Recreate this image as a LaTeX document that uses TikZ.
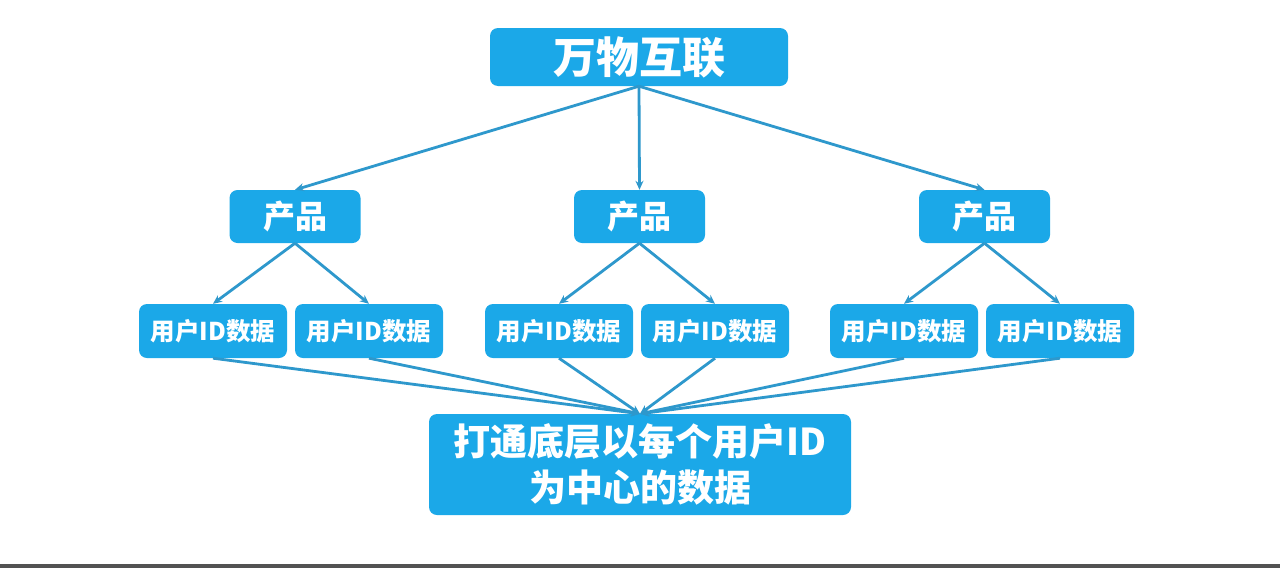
\documentclass[tikz,border=0pt]{standalone}
\usepackage{fontspec}
\newfontfamily\cjk{Noto Sans CJK SC}
\usetikzlibrary{arrows.meta}
\definecolor{boxblue}{RGB}{27,168,232}
\definecolor{lineblue}{RGB}{46,152,204}
\begin{document}
\begin{tikzpicture}[x=1pt,y=-1pt,
    box/.style={fill=boxblue, rounded corners=8pt, text=white, align=center,
        inner sep=0pt, font=\cjk\bfseries},
    link/.style={draw=lineblue, line width=2.8pt, -{Stealth[length=9pt,width=8pt]}}]
    % Canvas
    \fill[white] (0,0) rectangle (1280,568);
    \useasboundingbox (0,0) rectangle (1280,568);
    \fill[black!68] (0,564) rectangle (1280,568);

    % Top
    \node[box, minimum width=298pt, minimum height=58pt, font=\cjk\bfseries\fontsize{43}{46}\selectfont]
        (top) at (639,57) {万物互联};

    % Products
    \foreach \i/\x in {1/295, 2/639.5, 3/984.5}{
        \node[box, minimum width=131pt, minimum height=53pt, font=\cjk\bfseries\fontsize{32}{34}\selectfont]
            (p\i) at (\x,216.5) {产品};
        \draw[link] (top.south) -- (p\i.north);
    }

    % User ID data
    \foreach \i/\x/\p in {1/213/1, 2/369/1, 3/559/2, 4/715/2, 5/904/3, 6/1060/3}{
        \node[box, minimum width=148pt, minimum height=54pt, font=\cjk\bfseries\fontsize{24.5}{27}\selectfont]
            (u\i) at (\x,331) {用户ID数据};
        \draw[link] (p\p.south) -- (u\i.north);
    }

    % Bottom
    \node[box, minimum width=422pt, minimum height=101pt, font=\cjk\bfseries\fontsize{37}{46}\selectfont]
        (bot) at (640,464.5) {打通底层以每个用户ID\\为中心的数据};
    \foreach \i in {1,...,6}{
        \draw[link] (u\i.south) -- (bot.north);
    }
\end{tikzpicture}
\end{document}
